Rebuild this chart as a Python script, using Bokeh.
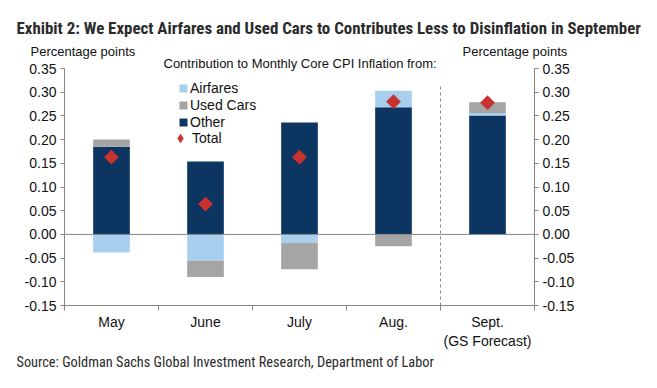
import numpy as np
from bokeh.plotting import figure
from bokeh.models import (ColumnDataSource, FixedTicker, LinearAxis, Label, Legend, LegendItem,
                          PrintfTickFormatter, Range1d)
from bokeh.embed import file_html
from bokeh.resources import INLINE

# ---- data ----
months = ["May", "June", "July", "Aug.", "Sept.\n(GS Forecast)"]
other = [0.185, 0.154, 0.236, 0.268, 0.251]
airfares = [-0.038, -0.055, -0.0175, 0.035, 0.005]
used_cars = [0.015, -0.035, -0.056, -0.025, 0.023]
total = [0.163, 0.064, 0.163, 0.280, 0.278]
y_ticks = [-0.15, -0.10, -0.05, 0.00, 0.05, 0.10, 0.15, 0.20, 0.25, 0.30, 0.35]

C_OTHER = "#0C3561"
C_AIR = "#A9CFEE"
C_USED = "#A5A5A5"
C_TOTAL = "#C8322F"
AX_COL = "#868686"
FONT = "Liberation Sans"
NARROW = "Roboto Condensed"

# ---- layout (pixels) ----
W, H = 649, 380
PL, PR, PT, PB = 64, 534, 68, 305   # plotting area of the bars

n = len(months)
y0, y1 = y_ticks[0], y_ticks[-1]
xpx = (PR - PL) / n
ypx = (PB - PT) / (y1 - y0)
x_range = Range1d(-PL / xpx, (W - PL) / xpx)
y_range = Range1d(y0 - (H - PB) / ypx, y1 + PT / ypx)

x = np.arange(n) + 0.5

# stacking: Other, Airfares, Used Cars (positives up, negatives down)
pos = np.zeros(n)
neg = np.zeros(n)
stack = {}
for name, vals in [("other", other), ("air", airfares), ("used", used_cars)]:
    v = np.array(vals)
    bottom = np.where(v >= 0, pos, neg)
    top = bottom + v
    pos = np.where(v >= 0, top, pos)
    neg = np.where(v < 0, top, neg)
    stack[name] = (bottom, top)

src = ColumnDataSource(dict(
    x=x, total=total,
    ob=stack["other"][0], ot=stack["other"][1],
    ab=stack["air"][0], at=stack["air"][1],
    ub=stack["used"][0], ut=stack["used"][1],
))

p = figure(width=W, height=H, output_backend="svg", toolbar_location=None,
           x_range=x_range, y_range=y_range,
           min_border_left=0, min_border_right=0, min_border_top=0, min_border_bottom=0)
p.outline_line_color = None
p.xgrid.visible = False
p.ygrid.visible = False
p.background_fill_color = "white"

bw = 0.39
r_other = p.vbar(x="x", bottom="ob", top="ot", width=bw, source=src, fill_color=C_OTHER, line_color=None)
r_air = p.vbar(x="x", bottom="ab", top="at", width=bw, source=src, fill_color=C_AIR, line_color=None)
r_used = p.vbar(x="x", bottom="ub", top="ut", width=bw, source=src, fill_color=C_USED, line_color=None)

# zero line and dashed separator between actuals and forecast
p.segment(x0=[0], y0=[0], x1=[n], y1=[0], line_color=AX_COL, line_width=1)
p.segment(x0=[n - 1], y0=[y0], x1=[n - 1], y1=[0.318], line_color=AX_COL, line_dash="3 3", line_width=1)

r_total = p.scatter(x="x", y="total", source=src, marker="square", angle=np.pi / 4, size=10.5,
                    fill_color=C_TOTAL, line_color=None)
# legend-only diamond renderer (one undefined point, draws nothing in the plot)
r_total_leg = p.scatter(x=[np.nan], y=[np.nan], marker="diamond", fill_color=C_TOTAL, line_color=None)

# axes (fixed inside the full-canvas frame)
yl = p.yaxis[0]
yr = LinearAxis()
p.add_layout(yr, "right")
yl.fixed_location = 0
yr.fixed_location = n
for ax in (yl, yr):
    ax.ticker = FixedTicker(ticks=y_ticks)
    ax.formatter = PrintfTickFormatter(format="%.2f")
    ax.bounds = (y0, y1)
    ax.axis_line_color = AX_COL
    ax.major_tick_line_color = AX_COL
    ax.major_tick_in = 0
    ax.major_tick_out = 4
    ax.minor_tick_line_color = None
    ax.major_label_text_font = FONT
    ax.major_label_text_font_size = "14px"
    ax.major_label_text_color = "#111111"
    ax.major_label_standoff = 4

xa = p.xaxis[0]
xa.fixed_location = y0
xa.bounds = (0, n)
xa.ticker = FixedTicker(ticks=list(x), minor_ticks=list(range(n + 1)))
xa.major_label_overrides = {float(xx): m for xx, m in zip(x, months)}
xa.axis_line_color = AX_COL
xa.major_tick_line_color = None
xa.major_tick_in = 0
xa.major_tick_out = 0
xa.minor_tick_line_color = AX_COL
xa.minor_tick_in = 0
xa.minor_tick_out = 5
xa.major_label_text_font = FONT
xa.major_label_text_font_size = "14px"
xa.major_label_text_color = "#111111"
xa.major_label_standoff = 3

# legends (location: screen px from frame bottom-left = canvas bottom-left)
def style_legend(lg):
    lg.border_line_color = None
    lg.background_fill_alpha = 0
    lg.padding = 0
    lg.margin = 0
    lg.spacing = 1
    lg.label_height = 16
    lg.label_text_font = FONT
    lg.label_text_font_size = "14px"
    lg.label_text_color = "#111111"

legA = Legend(items=[
    LegendItem(label="Airfares", renderers=[r_air]),
    LegendItem(label="Used Cars", renderers=[r_used]),
    LegendItem(label="Other", renderers=[r_other]),
], location=(178, H - 130))
style_legend(legA)
legA.glyph_width = 10
legA.glyph_height = 10
legA.label_standoff = 2
p.add_layout(legA, "center")

legB = Legend(items=[LegendItem(label="Total", renderers=[r_total_leg])], location=(168, H - 150))
style_legend(legB)
legB.glyph_width = 24
legB.glyph_height = 24
legB.label_standoff = 0
p.add_layout(legB, "center")

# texts, placed by page pixel coordinates
def lab(txt, px, py, size, font=FONT, style="normal", color="#111111"):
    p.add_layout(Label(x=px, y=H - py, x_units="screen", y_units="screen", text=txt,
                       text_font=font, text_font_size=size, text_font_style=style,
                       text_color=color, text_align="left", text_baseline="middle"))

lab("Exhibit 2: We Expect Airfares and Used Cars to Contributes Less to Disinflation in September",
    16, 27, "16.9px", font=NARROW, style="bold", color="#2b2b2b")
lab("Percentage points", 30, 51, "13px")
lab("Percentage points", 462, 51, "13px")
lab("Contribution  to Monthly Core CPI Inflation  from:", 163, 63, "13px")
lab("Source: Goldman Sachs Global Investment Research, Department of Labor",
    16, 361, "14.3px", font=NARROW, color="#2b2b2b")

open("out.html", "w").write(file_html(p, INLINE))
